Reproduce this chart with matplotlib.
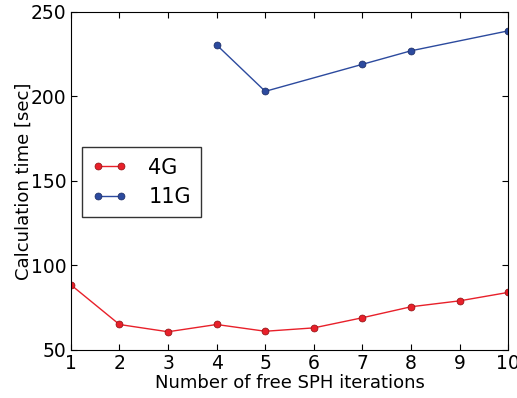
import matplotlib
matplotlib.use("Agg")
import matplotlib.pyplot as plt

iterations_4g = [1, 2, 3, 4, 5, 6, 7, 8, 9, 10]
time_4g = [88.5, 65, 60.7, 65, 61, 63, 69, 75.5, 79, 84]
iterations_11g = [4, 5, 7, 8, 10]
time_11g = [230.5, 203, 219, 227, 238.8]

fig = plt.figure(figsize=(5.17, 3.98), dpi=100)
ax = fig.add_axes([0.137, 0.121, 0.846, 0.849])

ax.plot(iterations_4g, time_4g, color="#e8202a", marker="o", markersize=5,
        linewidth=1, markeredgecolor="#8a1010", markeredgewidth=0.5, label="4G")
ax.plot(iterations_11g, time_11g, color="#2c4a9e", marker="o", markersize=5,
        linewidth=1, markeredgecolor="#1a2a60", markeredgewidth=0.5, label="11G")

ax.set_xlim(1, 10)
ax.set_ylim(50, 250)
ax.set_xticks(range(1, 11))
ax.set_yticks([50, 100, 150, 200, 250])
ax.tick_params(direction="in", top=True, right=True, labelsize=13.5, length=4, pad=3)
ax.set_xlabel("Number of free SPH iterations", fontsize=13, labelpad=1)
ax.set_ylabel("Calculation time [sec]", fontsize=13, labelpad=-1)

leg = ax.legend(loc="upper left", bbox_to_anchor=(0.025, 0.60), borderaxespad=0,
                fontsize=15, fancybox=False, frameon=True, numpoints=2,
                handlelength=1.7, handletextpad=1.0, borderpad=0.5,
                labelspacing=0.45)
leg.get_frame().set_edgecolor("black")

fig.savefig("out.png", dpi=100)
